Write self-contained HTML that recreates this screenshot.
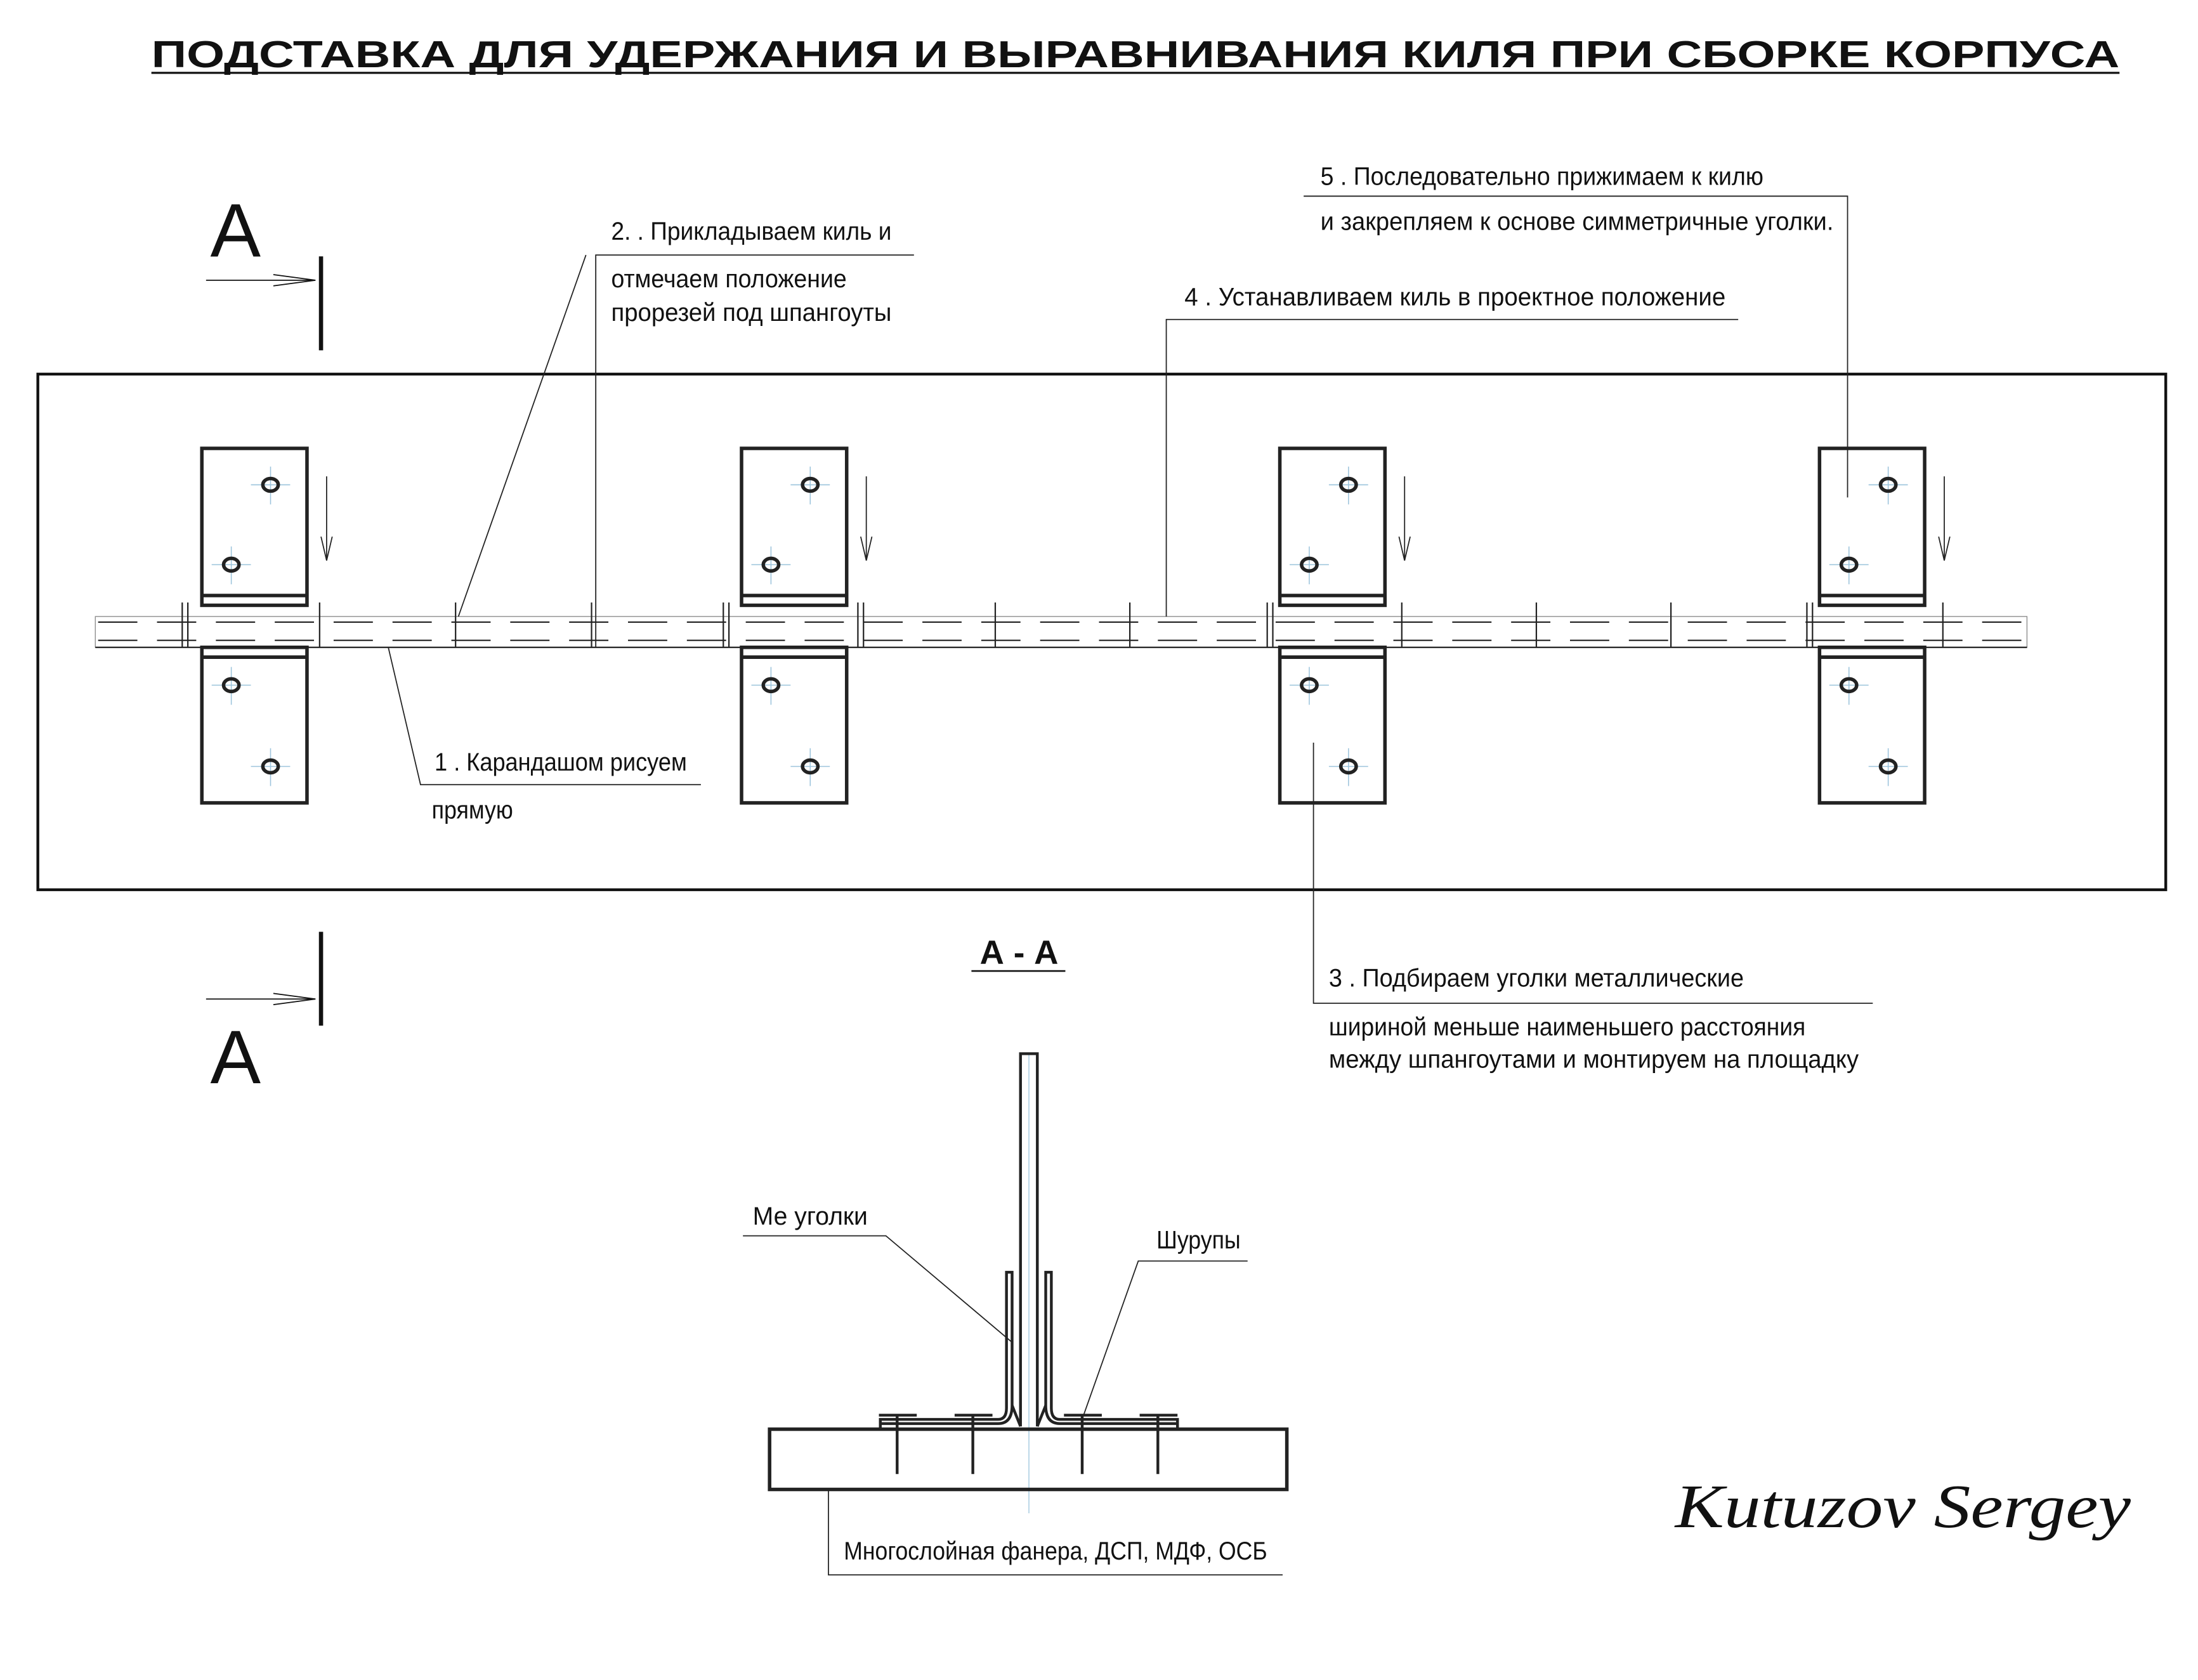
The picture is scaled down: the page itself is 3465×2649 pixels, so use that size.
<!DOCTYPE html>
<html><head><meta charset="utf-8"><style>
html,body{margin:0;padding:0;background:#fff}
svg{display:block}
text{font-family:"Liberation Sans",sans-serif;fill:#111}
</style></head><body>
<svg width="3465" height="2649" viewBox="0 0 1568 1199" preserveAspectRatio="none" xmlns="http://www.w3.org/2000/svg">
<rect width="1568" height="1199" fill="#fff"/>
<!-- title -->
<text x="810" y="48" font-size="27" font-weight="bold" text-anchor="middle" textLength="1404" lengthAdjust="spacingAndGlyphs">ПОДСТАВКА ДЛЯ УДЕРЖАНИЯ И ВЫРАВНИВАНИЯ КИЛЯ ПРИ СБОРКЕ КОРПУСА</text>
<line x1="108" y1="52" x2="1512" y2="52" stroke="#111" stroke-width="1.5"/>
<!-- main rect -->
<rect x="27" y="267" width="1518" height="368" fill="none" stroke="#111" stroke-width="2"/>
<!-- keel -->
<g stroke="#222" fill="none">
<rect x="68" y="440" width="1378" height="22" stroke-width="0.6" stroke="#888"/>
<line x1="68" y1="462" x2="1446" y2="462" stroke-width="1"/>
<line x1="70" y1="444" x2="1446" y2="444" stroke-width="1" stroke-dasharray="28,14"/>
<line x1="70" y1="457" x2="1446" y2="457" stroke-width="1" stroke-dasharray="28,14"/>
<g stroke-width="1">
<line x1="130" y1="430" x2="130" y2="462"/><line x1="134" y1="430" x2="134" y2="462"/>
<line x1="228" y1="430" x2="228" y2="462"/><line x1="325" y1="430" x2="325" y2="462"/>
<line x1="422" y1="430" x2="422" y2="462"/><line x1="516" y1="430" x2="516" y2="462"/>
<line x1="520" y1="430" x2="520" y2="462"/><line x1="612" y1="430" x2="612" y2="462"/>
<line x1="616" y1="430" x2="616" y2="462"/><line x1="710" y1="430" x2="710" y2="462"/>
<line x1="806" y1="430" x2="806" y2="462"/><line x1="904" y1="430" x2="904" y2="462"/>
<line x1="908" y1="430" x2="908" y2="462"/><line x1="1000" y1="430" x2="1000" y2="462"/>
<line x1="1096" y1="430" x2="1096" y2="462"/><line x1="1192" y1="430" x2="1192" y2="462"/>
<line x1="1289" y1="430" x2="1289" y2="462"/><line x1="1293" y1="430" x2="1293" y2="462"/>
<line x1="1386" y1="430" x2="1386" y2="462"/>
</g>
</g>
<!-- brackets -->
<defs>
<g id="br">
<g stroke="#9cc4dc" stroke-width="0.7">
<line x1="179" y1="346" x2="207" y2="346"/><line x1="193" y1="333" x2="193" y2="360"/>
<line x1="151" y1="403" x2="179" y2="403"/><line x1="165" y1="390" x2="165" y2="417"/>
<line x1="151" y1="489" x2="179" y2="489"/><line x1="165" y1="476" x2="165" y2="503"/>
<line x1="179" y1="547" x2="207" y2="547"/><line x1="193" y1="534" x2="193" y2="561"/>
</g>
<g stroke="#222" stroke-width="2.5" fill="none">
<rect x="144" y="320" width="75" height="112"/>
<line x1="144" y1="425" x2="219" y2="425"/>
<rect x="144" y="462" width="75" height="111"/>
<line x1="144" y1="469" x2="219" y2="469"/>
<ellipse cx="193" cy="346" rx="5.5" ry="4.5"/><ellipse cx="165" cy="403" rx="5.5" ry="4.5"/>
<ellipse cx="165" cy="489" rx="5.5" ry="4.5"/><ellipse cx="193" cy="547" rx="5.5" ry="4.5"/>
</g>
<g stroke="#222" stroke-width="0.8" fill="none">
<line x1="233" y1="340" x2="233" y2="400"/>
<polyline points="229,383 233,400 237,383"/>
</g>
</g>
</defs>
<use href="#br"/>
<use href="#br" x="385"/>
<use href="#br" x="769"/>
<use href="#br" x="1154"/>
<!-- leaders -->
<g stroke="#222" stroke-width="0.8" fill="none">
<polyline points="652,182 425,182 425,462"/>
<line x1="418" y1="182" x2="327" y2="440"/>
<polyline points="1240,228 832,228 832,440"/>
<polyline points="930,140 1318,140 1318,355"/>
<polyline points="277,462 300,560 500,560"/>
<polyline points="937,530 937,716 1336,716"/>
</g>
<g font-size="18">
<text x="436" y="171" textLength="200" lengthAdjust="spacingAndGlyphs">2. . Прикладываем киль и</text>
<text x="436" y="205" textLength="168" lengthAdjust="spacingAndGlyphs">отмечаем положение</text>
<text x="436" y="229" textLength="200" lengthAdjust="spacingAndGlyphs">прорезей под шпангоуты</text>
<text x="845" y="218" textLength="386" lengthAdjust="spacingAndGlyphs">4 . Устанавливаем киль в проектное положение</text>
<text x="942" y="132" textLength="316" lengthAdjust="spacingAndGlyphs">5 . Последовательно прижимаем к килю</text>
<text x="942" y="164" textLength="366" lengthAdjust="spacingAndGlyphs">и закрепляем к основе симметричные уголки.</text>
<text x="310" y="550" textLength="180" lengthAdjust="spacingAndGlyphs">1 . Карандашом рисуем</text>
<text x="308" y="584" textLength="58" lengthAdjust="spacingAndGlyphs">прямую</text>
<text x="948" y="704" textLength="296" lengthAdjust="spacingAndGlyphs">3 . Подбираем уголки металлические</text>
<text x="948" y="739" textLength="340" lengthAdjust="spacingAndGlyphs">шириной меньше наименьшего расстояния</text>
<text x="948" y="762" textLength="378" lengthAdjust="spacingAndGlyphs">между шпангоутами и монтируем на площадку</text>
</g>
<!-- section marks -->
<g stroke="#111" fill="none">
<line x1="229" y1="183" x2="229" y2="250" stroke-width="3"/>
<line x1="147" y1="200" x2="225" y2="200" stroke-width="0.8"/>
<polyline points="195,196 225,200 195,204" stroke-width="0.8"/>
<line x1="229" y1="665" x2="229" y2="732" stroke-width="3"/>
<line x1="147" y1="713" x2="225" y2="713" stroke-width="0.8"/>
<polyline points="195,709 225,713 195,717" stroke-width="0.8"/>
</g>
<text x="150" y="183" font-size="54" textLength="36" lengthAdjust="spacingAndGlyphs">А</text>
<text x="150" y="773" font-size="54" textLength="36" lengthAdjust="spacingAndGlyphs">А</text>
<text x="727" y="688" font-size="24" font-weight="bold" text-anchor="middle">А - А</text>
<line x1="693" y1="693" x2="760" y2="693" stroke="#111" stroke-width="1.2"/>
<!-- section drawing -->
<line x1="734" y1="752" x2="734" y2="1080" stroke="#9cc4dc" stroke-width="0.6"/>
<g stroke="#222" fill="none" stroke-width="2">
<rect x="549" y="1020" width="369" height="43" stroke-width="2.5"/>
<polyline points="728,1018 728,752 740,752 740,1018"/>
<path d="M628,1020 L628,1013 L712,1013 Q718,1013 718,1005 L718,908 L722,908 L722,1003 Q722,1016 712,1016 L628,1016"/>
<path d="M840,1020 L840,1013 L756,1013 Q750,1013 750,1005 L750,908 L746,908 L746,1003 Q746,1016 756,1016 L840,1016"/>
<line x1="722" y1="1003" x2="728" y2="1018"/><line x1="746" y1="1003" x2="740" y2="1018"/>
</g>
<g stroke="#222" stroke-width="2">
<line x1="627" y1="1010" x2="654" y2="1010"/><line x1="640" y1="1010" x2="640" y2="1052"/>
<line x1="681" y1="1010" x2="708" y2="1010"/><line x1="694" y1="1010" x2="694" y2="1052"/>
<line x1="759" y1="1010" x2="786" y2="1010"/><line x1="772" y1="1010" x2="772" y2="1052"/>
<line x1="813" y1="1010" x2="840" y2="1010"/><line x1="826" y1="1010" x2="826" y2="1052"/>
</g>
<g stroke="#222" stroke-width="0.8" fill="none">
<polyline points="530,882 632,882 722,958"/>
<polyline points="890,900 812,900 773,1010"/>
<polyline points="591,1063 591,1124 915,1124"/>
</g>
<g font-size="18">
<text x="537" y="874" textLength="82" lengthAdjust="spacingAndGlyphs">Ме уголки</text>
<text x="825" y="891" textLength="60" lengthAdjust="spacingAndGlyphs">Шурупы</text>
<text x="602" y="1113" textLength="302" lengthAdjust="spacingAndGlyphs">Многослойная фанера, ДСП, МДФ, ОСБ</text>
</g>
<text x="1195" y="1090" font-size="44" font-family="'Liberation Serif',serif" font-style="italic" textLength="325" lengthAdjust="spacingAndGlyphs" style="font-family:'Liberation Serif',serif">Kutuzov Sergey</text>
</svg>
</body></html>
